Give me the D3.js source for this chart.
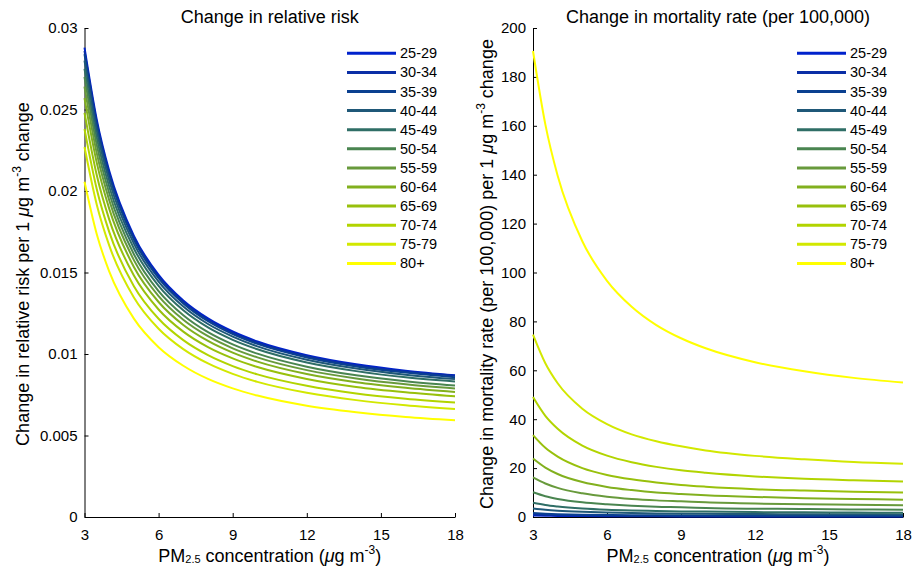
<!DOCTYPE html>
<html>
<head>
<meta charset="utf-8">
<script src="https://cdn.jsdelivr.net/npm/d3@7"></script>
<style>
  body { margin: 0; background: #fff; }
  svg text { font-family: "Liberation Sans", Arial, sans-serif; fill: #000; }
</style>
</head>
<body>
<svg id="chart" width="918" height="575"></svg>
<script>
// age groups and PM2.5 concentrations
var ages = ["25-29","30-34","35-39","40-44","45-49","50-54","55-59","60-64","65-69","70-74","75-79","80+"];
var conc = [3, 3.5, 4, 5, 6, 7, 8, 9, 10, 12, 14, 16, 18];

// change in relative risk per 1 ug/m3
var rrChange = [
  [0.0288, 0.02435, 0.02124, 0.01725, 0.01485, 0.01328, 0.01218, 0.01138, 0.01077, 0.00993, 0.00937, 0.00898, 0.0087],
  [0.0286, 0.02418, 0.02109, 0.01713, 0.01475, 0.01319, 0.0121, 0.0113, 0.0107, 0.00986, 0.0093, 0.00892, 0.00866],
  [0.0284, 0.02401, 0.02095, 0.01701, 0.01465, 0.0131, 0.01201, 0.01122, 0.01062, 0.00979, 0.00924, 0.00886, 0.00858],
  [0.0280, 0.02367, 0.02065, 0.01677, 0.01444, 0.01291, 0.01184, 0.01107, 0.01047, 0.00965, 0.00911, 0.00873, 0.00846],
  [0.0275, 0.02325, 0.02028, 0.01647, 0.01418, 0.01268, 0.01163, 0.01087, 0.01029, 0.00948, 0.00895, 0.00857, 0.00831],
  [0.0270, 0.02281, 0.01988, 0.01612, 0.01386, 0.01238, 0.01134, 0.01059, 0.01002, 0.00922, 0.00869, 0.00833, 0.00806],
  [0.0264, 0.0223, 0.01944, 0.01576, 0.01355, 0.0121, 0.01109, 0.01035, 0.00979, 0.00901, 0.0085, 0.00814, 0.00788],
  [0.0257, 0.02171, 0.01892, 0.01534, 0.01319, 0.01178, 0.0108, 0.01008, 0.00953, 0.00877, 0.00827, 0.00793, 0.00767],
  [0.0248, 0.02095, 0.01826, 0.01481, 0.01273, 0.01137, 0.01042, 0.00973, 0.0092, 0.00847, 0.00798, 0.00765, 0.0074],
  [0.0238, 0.02009, 0.01749, 0.01416, 0.01216, 0.01085, 0.00993, 0.00926, 0.00875, 0.00805, 0.00758, 0.00726, 0.00702],
  [0.0227, 0.01914, 0.01666, 0.01347, 0.01155, 0.0103, 0.00942, 0.00878, 0.00829, 0.00762, 0.00717, 0.00686, 0.00663],
  [0.02057, 0.01733, 0.01507, 0.01217, 0.01042, 0.00928, 0.00847, 0.00789, 0.00745, 0.00683, 0.00643, 0.00614, 0.00594]
];

// change in mortality rate (per 100,000) per 1 ug/m3
var mortChange = [
  [0.60, 0.51, 0.45, 0.36, 0.31, 0.28, 0.26, 0.24, 0.23, 0.21, 0.20, 0.19, 0.18],
  [1.0, 0.85, 0.74, 0.60, 0.52, 0.46, 0.42, 0.40, 0.37, 0.35, 0.33, 0.31, 0.30],
  [1.59, 1.34, 1.17, 0.95, 0.82, 0.73, 0.67, 0.63, 0.59, 0.55, 0.52, 0.50, 0.48],
  [3.5, 2.96, 2.58, 2.10, 1.81, 1.61, 1.48, 1.38, 1.31, 1.21, 1.14, 1.09, 1.06],
  [5.8, 4.9, 4.3, 3.5, 3.0, 2.7, 2.5, 2.3, 2.2, 2.0, 1.9, 1.8, 1.75],
  [10.1, 8.5, 7.4, 6.0, 5.2, 4.6, 4.2, 4.0, 3.7, 3.4, 3.3, 3.1, 3.0],
  [16.2, 13.7, 11.9, 9.7, 8.3, 7.4, 6.8, 6.4, 6.0, 5.5, 5.2, 5.0, 4.8],
  [23.9, 20.2, 17.6, 14.3, 12.3, 11.0, 10.0, 9.4, 8.9, 8.2, 7.7, 7.4, 7.1],
  [33.5, 28.3, 24.7, 20.0, 17.2, 15.4, 14.1, 13.1, 12.4, 11.4, 10.8, 10.3, 10.0],
  [49.1, 41.4, 36.1, 29.2, 25.1, 22.4, 20.5, 19.1, 18.1, 16.6, 15.6, 15.0, 14.5],
  [74.6, 62.9, 54.7, 44.3, 38.0, 33.8, 31.0, 28.9, 27.2, 25.0, 23.6, 22.5, 21.8],
  [190.6, 160.6, 139.6, 112.8, 96.6, 86.0, 78.5, 73.1, 69.0, 63.3, 59.6, 56.9, 55.0]
];

var ageColors = ["#0022cc","#0a2ea6","#0a4090","#1f5878","#2f6e66","#4a8550","#689a3c","#82b01e","#98c00c","#b2d400","#d2e800","#ffff00"];

var xTicks = [3, 6, 9, 12, 15, 18];
var rrTicks = [0, 0.005, 0.01, 0.015, 0.02, 0.025, 0.03];
var mortTicks = [0, 20, 40, 60, 80, 100, 120, 140, 160, 180, 200];

var svg = d3.select("#chart");

function addUnitLabel(sel, before, after) {
  sel.append("tspan").text(before);
  sel.append("tspan").attr("font-style", "italic").text("\u03bc");
  sel.append("tspan").text("g m");
  sel.append("tspan").attr("font-size", 12).attr("dy", -8).text("-3");
  sel.append("tspan").attr("dy", 8).text(after);
}

function drawPanel(opt) {
  var x = d3.scaleLinear().domain([3, 18]).range([opt.left, opt.right]);
  var y = d3.scaleLinear().domain(opt.yDomain).range([517, 28]);

  var g = svg.append("g");

  g.append("g")
    .attr("transform", "translate(0,517)")
    .call(d3.axisBottom(x).tickValues(xTicks).tickSizeInner(-4).tickSizeOuter(0).tickPadding(12));
  g.append("g")
    .attr("transform", "translate(" + opt.left + ",0)")
    .call(d3.axisLeft(y).tickValues(opt.yTicks).tickSizeInner(-4).tickSizeOuter(0).tickPadding(7)
      .tickFormat(function(d) { return String(d); }));
  g.selectAll(".tick text").attr("font-size", 15).style("font-family", "'Liberation Sans', Arial, sans-serif");
  g.selectAll(".domain, .tick line").attr("stroke", "#000");

  var line = d3.line()
    .x(function(d, i) { return x(conc[i]); })
    .y(function(d) { return y(d); })
    .curve(d3.curveMonotoneX);

  opt.series.forEach(function(s, i) {
    g.append("path")
      .attr("d", line(s))
      .attr("fill", "none")
      .attr("stroke", ageColors[i])
      .attr("stroke-width", 2);
  });

  var mid = (opt.left + opt.right) / 2;
  g.append("text")
    .attr("x", mid).attr("y", 23)
    .attr("text-anchor", "middle")
    .attr("font-size", 18)
    .text(opt.title);

  var xl = g.append("text")
    .attr("x", mid).attr("y", 562)
    .attr("text-anchor", "middle")
    .attr("font-size", 18);
  xl.append("tspan").text("PM");
  xl.append("tspan").attr("font-size", 11).attr("dy", 1).text("2.5");
  xl.append("tspan").attr("dy", -1).text(" concentration (");
  addUnitLabel(xl, "", ")");

  var yl = g.append("text")
    .attr("transform", "translate(" + opt.yLabelX + ",274) rotate(-90)")
    .attr("text-anchor", "middle")
    .attr("font-size", 18);
  addUnitLabel(yl, opt.yLabel, " change");

  // legend
  var leg = g.append("g");
  ages.forEach(function(a, i) {
    var ly = 53.3 + i * 19.1;
    leg.append("line")
      .attr("x1", opt.legX).attr("x2", opt.legX + 49)
      .attr("y1", ly).attr("y2", ly)
      .attr("stroke", ageColors[i]).attr("stroke-width", 3);
    leg.append("text")
      .attr("x", opt.legX + 53).attr("y", ly + 5)
      .attr("font-size", 14.5)
      .text(a);
  });
}

drawPanel({
  left: 84.5, right: 455, yDomain: [0, 0.03], yTicks: rrTicks,
  series: rrChange, title: "Change in relative risk",
  yLabel: "Change in relative risk per 1 ", yLabelX: 29, legX: 347
});

drawPanel({
  left: 533, right: 903, yDomain: [0, 200], yTicks: mortTicks,
  series: mortChange, title: "Change in mortality rate (per 100,000)",
  yLabel: "Change in mortality rate (per 100,000) per 1 ", yLabelX: 493, legX: 797
});
</script>
</body>
</html>
